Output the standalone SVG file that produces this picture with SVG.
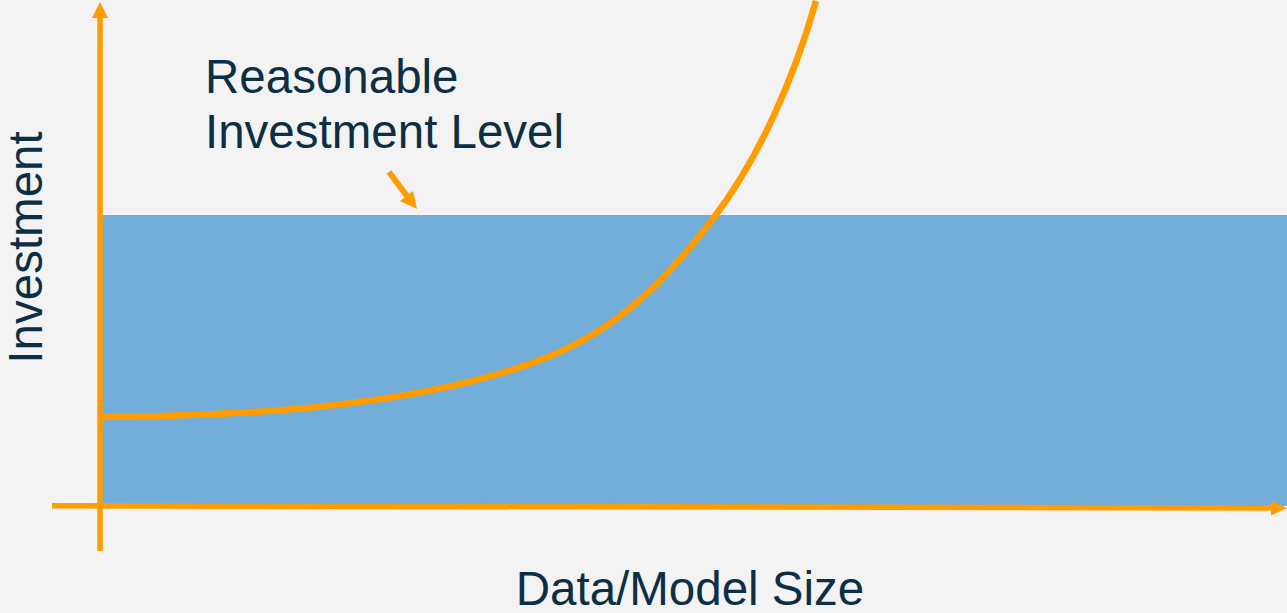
<svg xmlns="http://www.w3.org/2000/svg" width="1287" height="613" viewBox="0 0 1287 613">
  <style>
    .lbl { font-family: "Liberation Sans", Arial, sans-serif; font-size: 47.5px; fill: #0d2f45; }
    .ax { stroke: #ff9c00; stroke-width: 5.5; fill: none; }
    .curve { stroke: #ff9c00; stroke-width: 6.5; fill: none; stroke-linecap: butt; }
    .head { fill: #ff9c00; }
  </style>
  <rect x="0" y="0" width="1287" height="613" fill="#f2f3f2"/>
  <g id="band">
    <rect x="100" y="215" width="1187" height="291" fill="#72aed9"/>
  </g>
  <g id="connectors">
    <line class="ax" x1="100" y1="551" x2="100" y2="16"/>
    <polygon class="head" points="100,2 92,18 108,18"/>
    <line class="ax" x1="52" y1="505.8" x2="1272" y2="508"/>
    <polygon class="head" points="1287,508 1271,500.5 1271,515.5"/>
    <line x1="389" y1="172" x2="407" y2="196" stroke="#ff9c00" stroke-width="6"/>
    <polygon class="head" points="417,209 400,201 413,191"/>
  </g>
  <g id="curve">
    <path class="curve" d="M100,417 C250,416 420,406 540,360 C620,330 668,277 712,220 C760,158 795,75 816,1"/>
  </g>
  <g id="label-reasonable">
    <text class="lbl" x="205" y="93">Reasonable</text>
    <text class="lbl" x="205" y="148">Investment Level</text>
  </g>
  <g id="label-y">
    <text class="lbl" x="42" y="247.5" text-anchor="middle" transform="rotate(-90 42 247.5)">Investment</text>
  </g>
  <g id="label-x">
    <text class="lbl" x="690" y="605" text-anchor="middle">Data/Model Size</text>
  </g>
</svg>
